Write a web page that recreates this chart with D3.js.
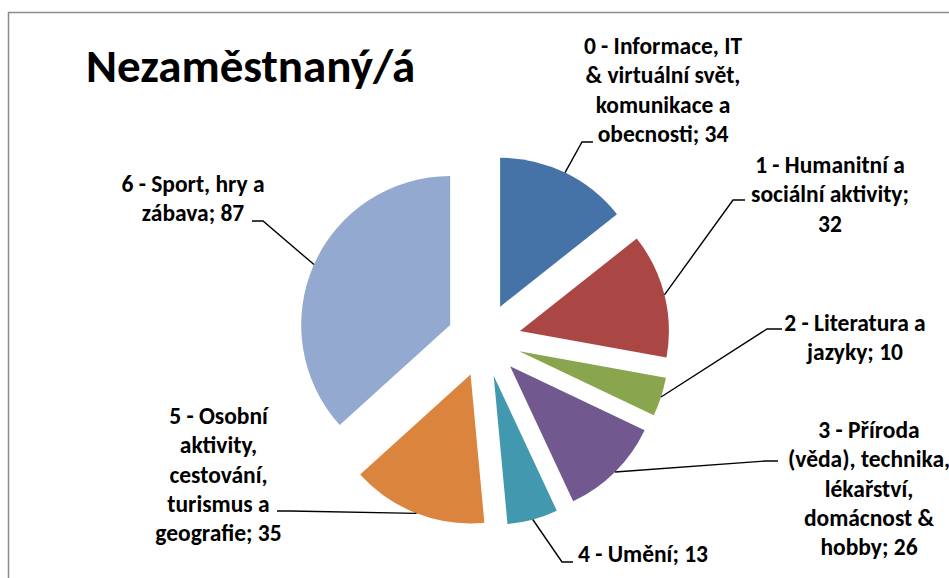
<!DOCTYPE html>
<html>
<head>
<meta charset="utf-8">
<script src="https://cdn.jsdelivr.net/npm/d3@7"></script>
<style>
  html, body { margin: 0; padding: 0; background: #fff; }
  svg text { font-family: Carlito, Calibri, Lato, sans-serif; font-weight: bold; fill: #000; }
</style>
</head>
<body>
<div id="chart"></div>
<script>
  // data
  var title = 'Nezaměstnaný/á';
  var categories = [
    '0 - Informace, IT & virtuální svět, komunikace a obecnosti',
    '1 - Humanitní a sociální aktivity',
    '2 - Literatura a jazyky',
    '3 - Příroda (věda), technika, lékařství, domácnost & hobby',
    '4 - Umění',
    '5 - Osobní aktivity, cestování, turismus a geografie',
    '6 - Sport, hry a zábava'
  ];
  var values = [34, 32, 10, 26, 13, 35, 87];
  var colors = ['#4572A7', '#AA4643', '#89A54E', '#71588F', '#4198AF', '#DB843D', '#93A9CF'];

  // layout of the labels: words per line, centre x, first baseline, leader elbow/end
  var labelLayout = [
    {lines: [4, 3, 2, 2], cx: 663, y: 54, elbow: [582, 142], end: [593, 142]},
    {lines: [4, 2, 1], cx: 830, y: 173, elbow: [733, 200], end: [745, 200]},
    {lines: [4, 2], cx: 855, y: 331, elbow: [767, 329], end: [782, 329]},
    {lines: [3, 2, 1, 2, 2], cx: 869, y: 438, elbow: [766, 461], end: [778, 461]},
    {lines: [4], cx: 643, y: 562, elbow: [562, 562], end: [573, 562]},
    {lines: [3, 1, 1, 2, 2], cx: 218.5, y: 424, elbow: [290, 511], end: [277, 511]},
    {lines: [5, 2], cx: 193, y: 192, elbow: [263, 221], end: [252, 221]}
  ];

  var w = 949, h = 578;
  var cx = 484, cy = 340, radius = 149, explode = 37;
  var lineStep = 29.3;

  var svg = d3.select('#chart')
    .append('svg')
    .attr('width', w)
    .attr('height', h);

  // chart area border (runs off the right and bottom edges)
  svg.append('rect')
    .attr('x', 8.5)
    .attr('y', 12.5)
    .attr('width', w + 20)
    .attr('height', h + 20)
    .attr('fill', 'none')
    .attr('stroke', '#8c8c8c')
    .attr('stroke-width', 1.5);

  svg.append('text')
    .attr('x', 86)
    .attr('y', 82)
    .style('font-size', '47px')
    .text(title);

  var pie = d3.pie().sort(null).value(function(d) { return d; });
  var arcs = pie(values);
  var arc = d3.arc().innerRadius(0).outerRadius(radius);

  function offset(d) {
    var a = (d.startAngle + d.endAngle) / 2;
    return [Math.sin(a) * explode, -Math.cos(a) * explode];
  }

  var g = svg.append('g')
    .attr('transform', 'translate(' + cx + ',' + cy + ')');

  g.selectAll('path.slice')
    .data(arcs)
    .enter()
    .append('path')
    .attr('class', 'slice')
    .attr('d', arc)
    .attr('fill', function(d, i) { return colors[i]; })
    .attr('transform', function(d) {
      var o = offset(d);
      return 'translate(' + o[0] + ',' + o[1] + ')';
    });

  // leader lines
  var line = d3.line();
  svg.selectAll('path.leader')
    .data(arcs)
    .enter()
    .append('path')
    .attr('class', 'leader')
    .attr('fill', 'none')
    .attr('stroke', '#000')
    .attr('stroke-width', 1.4)
    .attr('d', function(d, i) {
      var a = (d.startAngle + d.endAngle) / 2;
      var o = offset(d);
      var start = [cx + o[0] + Math.sin(a) * radius, cy + o[1] - Math.cos(a) * radius];
      return line([start, labelLayout[i].elbow, labelLayout[i].end]);
    });

  // labels
  arcs.forEach(function(d, i) {
    var words = (categories[i] + '; ' + values[i]).split(' ');
    var L = labelLayout[i];
    var t = svg.append('text')
      .attr('text-anchor', 'middle')
      .style('font-size', '23.5px');
    var k = 0;
    L.lines.forEach(function(n, j) {
      t.append('tspan')
        .attr('x', L.cx)
        .attr('y', L.y + j * lineStep)
        .text(words.slice(k, k + n).join(' '));
      k += n;
    });
  });
</script>
</body>
</html>
